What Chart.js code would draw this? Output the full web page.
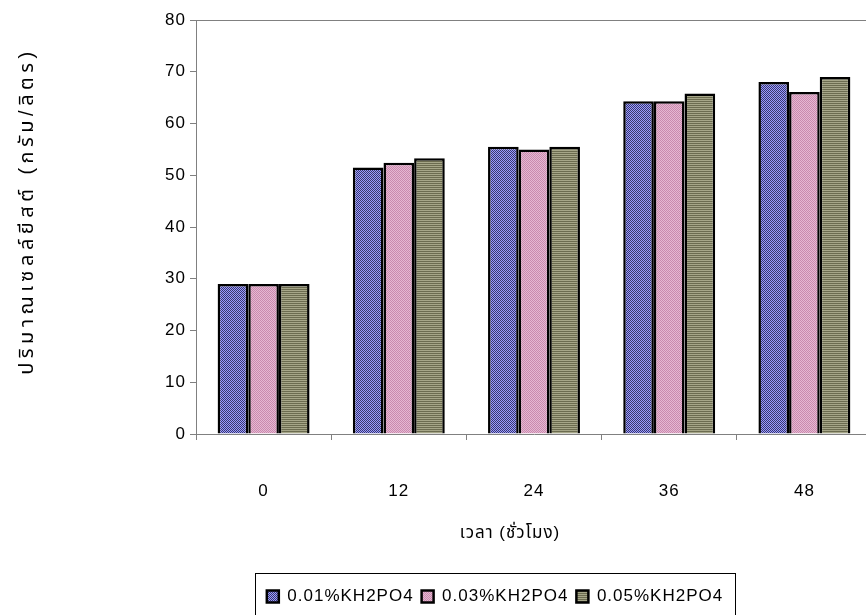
<!DOCTYPE html>
<html>
<head>
<meta charset="utf-8">
<script src="https://cdn.jsdelivr.net/npm/chart.js@4/dist/chart.umd.min.js"></script>
<style>
  html, body { margin: 0; padding: 0; background: #fff; overflow: hidden; width: 866px; height: 615px; }
  #wrap { width: 872px; height: 615px; }
</style>
</head>
<body>
<div id="wrap"><canvas id="c" width="872" height="615"></canvas></div>
<script>
// Yeast cell mass (g/L) over time for three KH2PO4 levels
const hours = ['0', '12', '24', '36', '48'];
const seriesNames = ['0.01%KH2PO4', '0.03%KH2PO4', '0.05%KH2PO4'];
const kh2po4_001 = [29.0, 51.5, 55.5, 64.3, 68.0];
const kh2po4_003 = [29.0, 52.4, 55.0, 64.3, 66.1];
const kh2po4_005 = [29.0, 53.3, 55.5, 65.8, 69.0];
const yMin = 0, yMax = 80, yStep = 10;

const FONT_FAMILY = '"Liberation Sans", Arial, "Noto Sans Thai", "Noto Sans", sans-serif';
const baseFont = { family: FONT_FAMILY, size: 17 };
const yTitleFont = { family: FONT_FAMILY, size: 20 };

const PLOT_BOTTOM = 434;     // pixel row of the value axis baseline
const LEGEND_SHIFT = 59;     // legend sits right of the canvas centre

const canvas = document.getElementById('c');
const ctx = canvas.getContext('2d');

// small repeating fills for the bars
function checker(c1, c2) {
  const t = document.createElement('canvas');
  t.width = 2; t.height = 2;
  const g = t.getContext('2d');
  g.fillStyle = c1; g.fillRect(0, 0, 2, 2);
  g.fillStyle = c2; g.fillRect(0, 0, 1, 1); g.fillRect(1, 1, 1, 1);
  return ctx.createPattern(t, 'repeat');
}
function stripes(c1, c2) {
  const t = document.createElement('canvas');
  t.width = 2; t.height = 2;
  const g = t.getContext('2d');
  g.fillStyle = c1; g.fillRect(0, 0, 2, 1);
  g.fillStyle = c2; g.fillRect(0, 1, 2, 1);
  return ctx.createPattern(t, 'repeat');
}
const fillBlue = checker('#9a9aff', '#3a3a6e');
const fillPink = checker('#e6b8d2', '#c98aae');
const fillOlive = stripes('#a6a688', '#6c6c50');

const spacing = {
  id: 'spacing',
  beforeUpdate(chart) { chart.ctx.letterSpacing = '1px'; },
  beforeDraw(chart) { chart.ctx.letterSpacing = '1px'; }
};

// nudge an axis title and optionally widen its letter spacing
function wrapTitle(scale, dx, dy, ls) {
  if (!scale || scale._titleWrapped) return;
  const orig = scale.drawTitle.bind(scale);
  scale.drawTitle = function () {
    const c = this.ctx;
    c.save();
    c.translate(dx, dy);
    if (ls) c.letterSpacing = ls;
    orig();
    c.restore();
  };
  scale._titleWrapped = true;
}

const placement = {
  id: 'placement',
  afterLayout(chart) {
    const lg = chart.legend;
    if (lg) {
      lg.left += LEGEND_SHIFT;
      lg.right += LEGEND_SHIFT;
      if (lg.adjustHitBoxes) lg.adjustHitBoxes();
    }
    wrapTitle(chart.scales.x, -24, 0, null);
    wrapTitle(chart.scales.y, 0, -16, '4.5px');
  }
};

const frames = {
  id: 'frames',
  afterDraw(chart) {
    const c = chart.ctx, a = chart.chartArea;
    c.save();
    c.strokeStyle = '#808080';
    c.lineWidth = 1;
    c.beginPath();
    c.moveTo(a.left, a.top + 0.5);
    c.lineTo(a.right, a.top + 0.5);
    c.lineTo(a.right - 0.5, a.bottom);
    c.stroke();
    // box around the legend
    const lg = chart.legend;
    if (lg && lg.lineWidths && lg.lineWidths.length) {
      const pad = lg.options.labels.padding;
      const lw = lg.lineWidths[0];
      const x0 = (lg.left + pad + lg.right - lw) / 2;
      const l = x0 - 12;
      const r = x0 + lw + 4;
      const t = lg.top + pad - 15;
      const bt = lg.bottom + 20;
      c.strokeStyle = '#000';
      c.lineWidth = 1;
      c.strokeRect(Math.round(l) + 0.5, Math.round(t) + 0.5, Math.round(r - l), Math.round(bt - t));
    }
    c.restore();
  }
};

new Chart(ctx, {
  type: 'bar',
  data: {
    labels: hours,
    datasets: [
      { label: seriesNames[0], data: kh2po4_001, backgroundColor: fillBlue, borderColor: '#000', borderWidth: 2.5 },
      { label: seriesNames[1], data: kh2po4_003, backgroundColor: fillPink, borderColor: '#000', borderWidth: 2.5 },
      { label: seriesNames[2], data: kh2po4_005, backgroundColor: fillOlive, borderColor: '#000', borderWidth: 2.5 }
    ]
  },
  options: {
    responsive: false,
    animation: false,
    devicePixelRatio: 1,
    barPercentage: 1,
    categoryPercentage: 0.68,
    layout: { padding: { left: 0, right: 0, top: 20, bottom: 0 } },
    scales: {
      x: {
        grid: { offset: true, drawOnChartArea: false, tickLength: 6, color: '#808080', lineWidth: 1 },
        border: { color: '#808080', width: 1 },
        ticks: { padding: 41, color: '#000', font: baseFont },
        title: {
          display: true, text: 'เวลา (ชั่วโมง)', color: '#000', font: baseFont,
          padding: { top: 0, bottom: 36 }
        },
        afterFit(scale) {
          const lg = scale.chart.legend;
          scale.height = scale.chart.height - (lg ? lg.height : 0) - PLOT_BOTTOM;
        }
      },
      y: {
        min: yMin, max: yMax,
        grid: { drawOnChartArea: false, tickLength: 6, color: '#808080', lineWidth: 1 },
        border: { color: '#808080', width: 1 },
        ticks: { stepSize: yStep, padding: 4, color: '#000', font: baseFont },
        title: {
          display: true, text: 'ปริมาณเซลล์ยีสต์ (กรัม/ลิตร)', color: '#000', font: yTitleFont,
          padding: { top: 15, bottom: 0 }
        },
        afterFit(scale) { scale.width = 196; }
      }
    },
    plugins: {
      legend: {
        position: 'bottom',
        labels: { boxWidth: 12, boxHeight: 12, padding: 8, color: '#000', font: baseFont }
      },
      tooltip: { enabled: false }
    }
  },
  plugins: [spacing, placement, frames]
});
</script>
</body>
</html>
